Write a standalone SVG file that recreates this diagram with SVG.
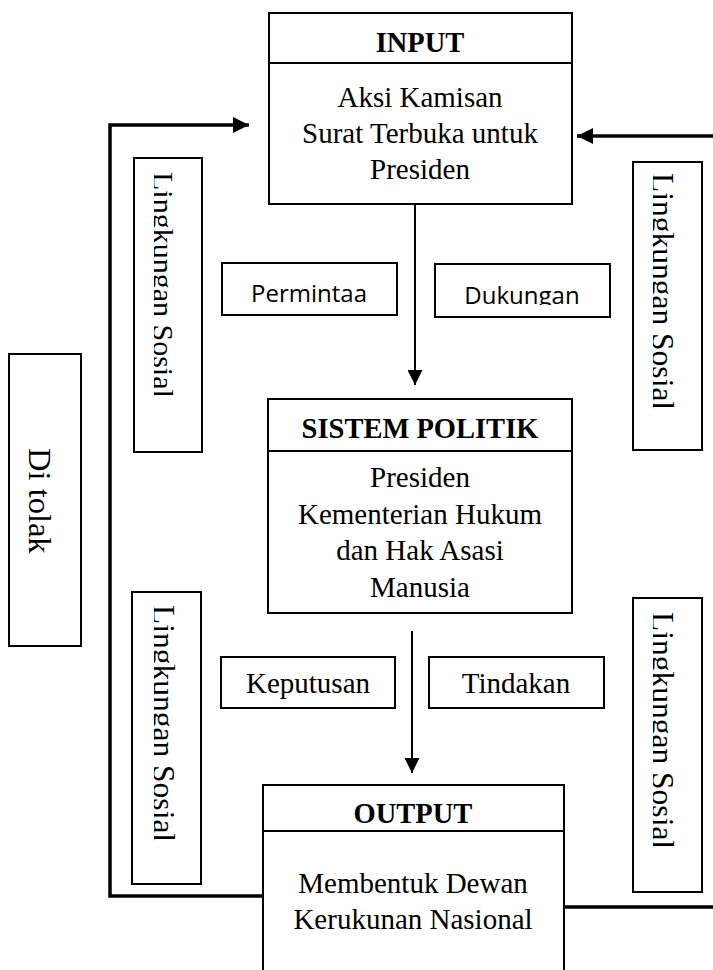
<svg xmlns="http://www.w3.org/2000/svg" width="713" height="970" viewBox="0 0 713 970">
<style>
.box{fill:#fff;stroke:#000;stroke-width:2}
.div{stroke:#000;stroke-width:2}
.ser{font-family:"Liberation Serif","Times New Roman",serif;fill:#000}
.body{font-size:29px;text-anchor:middle}
.head{font-size:28.5px;font-weight:bold;text-anchor:middle}
.lbl{font-size:29px;text-anchor:middle}
.sans{font-family:"Open Sans","Liberation Sans",sans-serif;font-size:24px;text-anchor:middle;fill:#000}
.rot{font-size:31.5px}
.thin{stroke:#000;stroke-width:2;fill:none}
.thick{stroke:#000;stroke-width:3.5;fill:none}
</style>
<defs>
<marker id="ah" markerWidth="15" markerHeight="15" viewBox="0 0 15 15" refX="15" refY="7.5" orient="auto" markerUnits="userSpaceOnUse">
<path d="M0,0 L15,7.5 L0,15 Z" fill="#000"/>
</marker>
<marker id="ahb" markerWidth="16" markerHeight="16" viewBox="0 0 16 16" refX="16" refY="8" orient="auto" markerUnits="userSpaceOnUse">
<path d="M0,0 L16,8 L0,16 Z" fill="#000"/>
</marker>
<clipPath id="cL1"><rect x="154" y="158" width="48" height="294"/></clipPath>
<clipPath id="cR1"><rect x="653" y="162" width="49" height="288"/></clipPath>
<clipPath id="cL2"><rect x="154" y="592" width="47" height="292"/></clipPath>
<clipPath id="cR2"><rect x="653" y="598" width="49" height="294"/></clipPath>
<clipPath id="cDuk"><rect x="435" y="264" width="175" height="41"/></clipPath>
</defs>

<g id="connectors">
<line class="thin" x1="415" y1="204" x2="415" y2="385" marker-end="url(#ah)"/>
<line class="thin" x1="412" y1="631" x2="412" y2="773" marker-end="url(#ah)"/>
<polyline class="thick" points="263,896 110,896 110,125 249,125" marker-end="url(#ahb)"/>
<line class="thick" x1="713" y1="136" x2="577" y2="136" marker-end="url(#ahb)"/>
<line class="thick" x1="564" y1="907" x2="713" y2="907"/>
</g>

<g id="input">
<rect class="box" x="269" y="13" width="303" height="191"/>
<line class="div" x1="269" y1="63" x2="572" y2="63"/>
<text class="ser head" x="420" y="52">INPUT</text>
<text class="ser body" x="420" y="107">Aksi Kamisan</text>
<text class="ser body" x="420" y="143">Surat Terbuka untuk</text>
<text class="ser body" x="420" y="179">Presiden</text>
</g>

<g id="sistem-politik">
<rect class="box" x="268" y="399" width="304" height="214"/>
<line class="div" x1="268" y1="451" x2="572" y2="451"/>
<text class="ser head" x="420" y="438">SISTEM POLITIK</text>
<text class="ser body" x="420" y="487">Presiden</text>
<text class="ser body" x="420" y="524">Kementerian Hukum</text>
<text class="ser body" x="420" y="560">dan Hak Asasi</text>
<text class="ser body" x="420" y="597">Manusia</text>
</g>

<g id="output">
<path class="box" d="M263,975 L263,785 L564,785 L564,975"/>
<line class="div" x1="263" y1="831" x2="564" y2="831"/>
<text class="ser head" x="413" y="823">OUTPUT</text>
<text class="ser body" x="413" y="893">Membentuk Dewan</text>
<text class="ser body" x="413" y="929">Kerukunan Nasional</text>
</g>

<g id="permintaan">
<rect class="box" x="222" y="263" width="175" height="52"/>
<text class="sans" x="309" y="302">Permintaa</text>
</g>

<g id="dukungan">
<rect class="box" x="435" y="264" width="175" height="53"/>
<text class="sans" x="522" y="304" clip-path="url(#cDuk)">Dukungan</text>
</g>

<g id="keputusan">
<rect class="box" x="221" y="657" width="174" height="51"/>
<text class="ser lbl" x="308" y="693">Keputusan</text>
</g>

<g id="tindakan">
<rect class="box" x="429" y="657" width="175" height="51"/>
<text class="ser lbl" x="516" y="693">Tindakan</text>
</g>

<g id="lingkungan-kiri-1">
<rect class="box" x="134" y="158" width="68" height="294"/>
<g clip-path="url(#cL1)"><text class="ser" font-size="30" transform="translate(153,172) rotate(90)">Lingkungan Sosial</text></g>
</g>

<g id="lingkungan-kanan-1">
<rect class="box" x="633" y="162" width="69" height="288"/>
<g clip-path="url(#cR1)"><text class="ser rot" transform="translate(652,173) rotate(90)">Lingkungan Sosial</text></g>
</g>

<g id="lingkungan-kiri-2">
<rect class="box" x="132" y="592" width="69" height="292"/>
<g clip-path="url(#cL2)"><text class="ser rot" transform="translate(153,605) rotate(90)">Lingkungan Sosial</text></g>
</g>

<g id="lingkungan-kanan-2">
<rect class="box" x="633" y="598" width="69" height="294"/>
<g clip-path="url(#cR2)"><text class="ser rot" transform="translate(652,612) rotate(90)">Lingkungan Sosial</text></g>
</g>

<g id="di-tolak">
<rect class="box" x="9" y="354" width="72" height="292"/>
<text class="ser" font-size="32.5" transform="translate(29,448) rotate(90)">Di tolak</text>
</g>
</svg>
